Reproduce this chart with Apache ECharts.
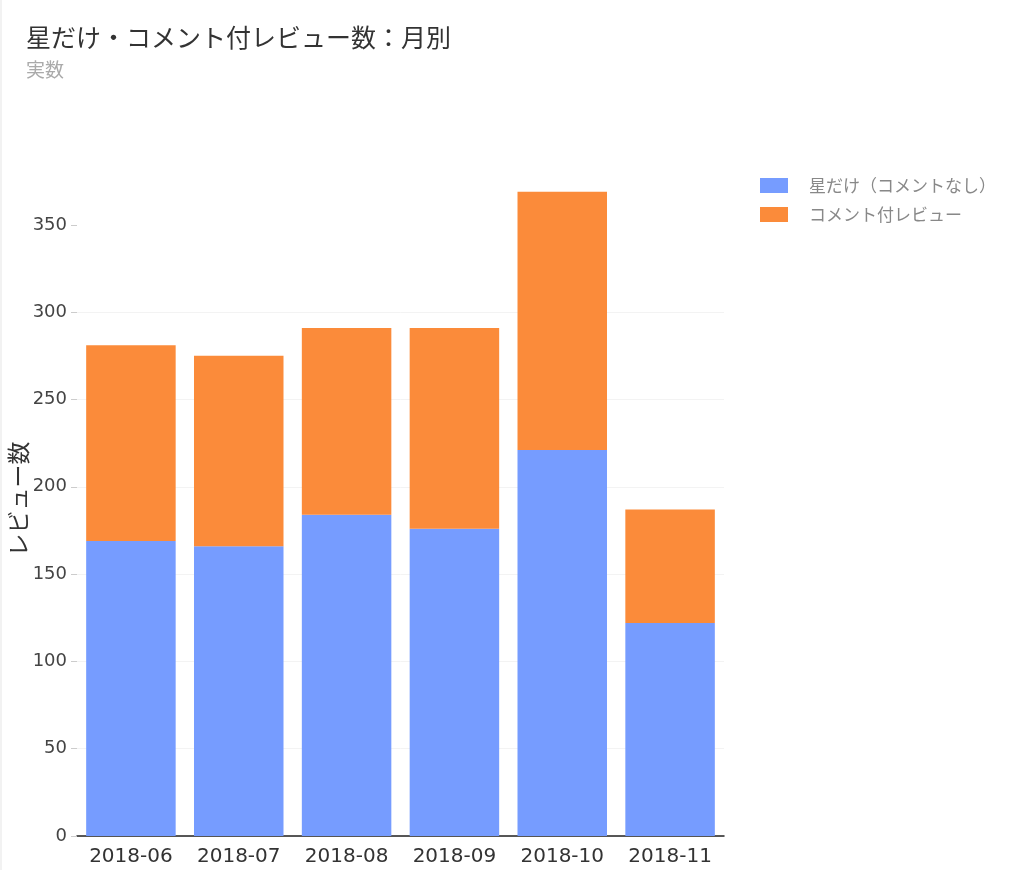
<!DOCTYPE html>
<html>
<head>
<meta charset="utf-8">
<script src="https://cdn.jsdelivr.net/npm/echarts@6/dist/echarts.min.js"></script>
<style>
html,body{margin:0;padding:0;background:#fff;}
#chart{width:1024px;height:870px;box-sizing:border-box;border-left:2px solid #f2f2f2;}
</style>
</head>
<body>
<div id="chart"></div>
<script>
const months = ['2018-06','2018-07','2018-08','2018-09','2018-10','2018-11'];
const seriesNames = ['星だけ（コメントなし）','コメント付レビュー'];
const starOnly = [169, 166, 184, 176, 221, 122];
const withComment = [112, 109, 107, 115, 148, 65];
const yTicks = [0, 50, 100, 150, 200, 250, 300, 350];

const font = '"Noto Sans CJK JP","DejaVu Sans",sans-serif';
const chart = echarts.init(document.getElementById('chart'), null, {renderer:'canvas'});
chart.setOption({
  animation:false,
  color:['#769CFF','#FB8B3A'],
  title:{
    text:'星だけ・コメント付レビュー数：月別',
    subtext:'実数',
    left:19, top:20,
    itemGap:10,
    textStyle:{fontFamily:font,fontSize:25,fontWeight:'normal',color:'#333'},
    subtextStyle:{fontFamily:font,fontSize:19,color:'#aaa'}
  },
  legend:{
    orient:'vertical',
    left:753, top:172,
    itemWidth:28, itemHeight:15, itemGap:12,
    icon:'rect',
    textStyle:{fontFamily:font,fontSize:17,color:'#888',padding:[0,0,0,16]},
    data:seriesNames
  },
  grid:{left:75, right:300, top:162, bottom:34, containLabel:false, outerBoundsMode:'none'},
  xAxis:{
    type:'category',
    data:months,
    axisLine:{lineStyle:{color:'#222',width:1.5}},
    axisTick:{show:false},
    axisLabel:{interval:0,fontFamily:'"DejaVu Sans",sans-serif',fontSize:20,color:'#333',margin:11}
  },
  yAxis:{
    type:'value',
    min:0, max:386, interval:50,
    name:'レビュー数',
    nameLocation:'middle',
    nameGap:47,
    nameMoveOverlap:false,
    nameTextStyle:{fontFamily:font,fontSize:23,color:'#333'},
    axisLine:{show:false},
    axisTick:{show:true,length:6,lineStyle:{color:'#ccc'},customValues:yTicks},
    axisLabel:{fontFamily:'"DejaVu Sans",sans-serif',fontSize:18,color:'#444',margin:10,customValues:yTicks},
    splitLine:{show:true,showMaxLine:false,lineStyle:{color:'#f3f3f3',width:1}}
  },
  series:[
    {name:seriesNames[0],type:'bar',stack:'total',data:starOnly,barCategoryGap:'17%'},
    {name:seriesNames[1],type:'bar',stack:'total',data:withComment,barCategoryGap:'17%'}
  ]
});
</script>
</body>
</html>
